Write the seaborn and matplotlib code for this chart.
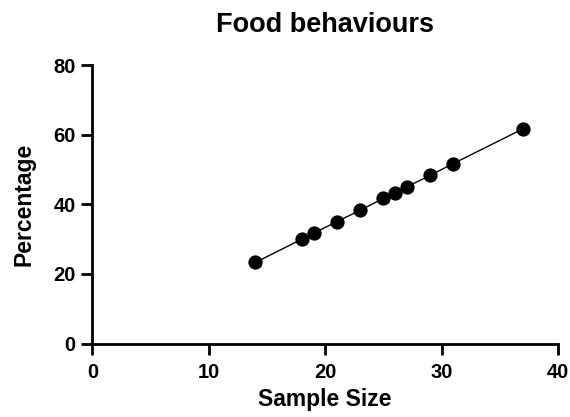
import matplotlib
matplotlib.use("Agg")
import matplotlib.pyplot as plt
import seaborn as sns
import pandas as pd

# Sample sizes and percentages
sample_size = [14, 18, 19, 21, 23, 25, 26, 27, 29, 31, 37]
percentage = [23.3, 30.0, 31.7, 35.0, 38.3, 41.7, 43.3, 45.0, 48.3, 51.7, 61.7]
x_ticks = [0, 10, 20, 30, 40]
y_ticks = [0, 20, 40, 60, 80]

df = pd.DataFrame({"Sample Size": sample_size, "Percentage": percentage})

sns.set_style("ticks")
plt.rcParams["font.family"] = ["Liberation Sans", "DejaVu Sans"]
plt.rcParams["font.weight"] = "bold"
plt.rcParams["text.color"] = "black"
plt.rcParams["axes.labelcolor"] = "black"
plt.rcParams["xtick.color"] = "black"
plt.rcParams["ytick.color"] = "black"
plt.rcParams["axes.edgecolor"] = "black"

fig = plt.figure(figsize=(5.7, 4.17), dpi=100)
ax = fig.add_axes([0.162, 0.176, 0.817, 0.668])

sns.lineplot(data=df, x="Sample Size", y="Percentage", ax=ax,
             color="black", linewidth=1.0, marker="o", markersize=9.5,
             markeredgecolor="black", markerfacecolor="black")

ax.set_xlim(0, 40)
ax.set_ylim(0, 80)
ax.set_xticks(x_ticks)
ax.set_yticks(y_ticks)
ax.tick_params(axis="both", length=8, width=2, labelsize=14.5)
ax.tick_params(axis="x", pad=6)
ax.tick_params(axis="y", pad=4)
for label in ax.get_xticklabels() + ax.get_yticklabels():
    label.set_fontweight("bold")

for side in ["left", "bottom"]:
    ax.spines[side].set_linewidth(2)
ax.spines["top"].set_visible(False)
ax.spines["right"].set_visible(False)

ax.set_title("Food behaviours", fontsize=19.5, fontweight="bold", pad=24)
ax.set_xlabel("Sample Size", fontsize=16.5, fontweight="bold", labelpad=4)
ax.set_ylabel("Percentage", fontsize=16.5, fontweight="bold", labelpad=13)

fig.savefig("out.png", dpi=100)
